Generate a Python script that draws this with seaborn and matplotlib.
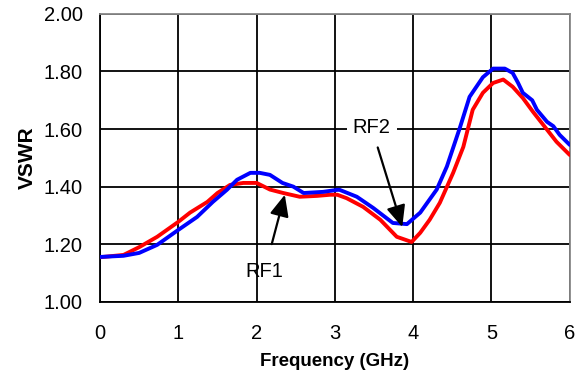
import matplotlib
matplotlib.use("Agg")
import matplotlib.pyplot as plt
import seaborn as sns
import pandas as pd

rf1_freq = [0.0, 0.3, 0.5, 0.73, 1.0, 1.15, 1.37, 1.5, 1.66, 1.83, 2.0, 2.17, 2.34, 2.55, 2.77, 2.94, 3.03,
            3.15, 3.36, 3.58, 3.79, 3.98, 4.09, 4.21, 4.34, 4.51, 4.64, 4.76, 4.89, 5.02, 5.15, 5.27, 5.4,
            5.53, 5.66, 5.83, 6.0]
rf1_vswr = [1.155, 1.163, 1.19, 1.226, 1.278, 1.31, 1.347, 1.378, 1.406, 1.413, 1.413, 1.39, 1.378, 1.365,
            1.368, 1.372, 1.372, 1.36, 1.33, 1.285, 1.226, 1.208, 1.24, 1.285, 1.344, 1.448, 1.538, 1.667,
            1.726, 1.76, 1.772, 1.747, 1.708, 1.66, 1.615, 1.556, 1.51]

rf2_freq = [0.0, 0.3, 0.5, 0.73, 1.0, 1.24, 1.44, 1.62, 1.75, 1.92, 2.04, 2.17, 2.33, 2.47, 2.6, 2.85, 3.03,
            3.06, 3.28, 3.49, 3.74, 3.92, 4.09, 4.3, 4.43, 4.6, 4.72, 4.89, 5.02, 5.17, 5.27, 5.34, 5.4,
            5.52, 5.58, 5.71, 5.79, 5.87, 6.0]
rf2_vswr = [1.156, 1.16, 1.17, 1.198, 1.25, 1.295, 1.347, 1.389, 1.424, 1.448, 1.448, 1.441, 1.413, 1.40,
            1.378, 1.382, 1.389, 1.389, 1.365, 1.326, 1.274, 1.27, 1.31, 1.39, 1.47, 1.608, 1.712, 1.78,
            1.81, 1.81, 1.795, 1.76, 1.726, 1.70, 1.667, 1.625, 1.61, 1.58, 1.545]

x_ticks = [0, 1, 2, 3, 4, 5, 6]
y_ticks = [1.00, 1.20, 1.40, 1.60, 1.80, 2.00]

df = pd.concat([
    pd.DataFrame({"freq": rf1_freq, "vswr": rf1_vswr, "series": "RF1"}),
    pd.DataFrame({"freq": rf2_freq, "vswr": rf2_vswr, "series": "RF2"}),
])

sns.set_theme(style="white")
plt.rcParams["font.family"] = ["Liberation Sans", "DejaVu Sans"]
plt.rcParams["text.color"] = "black"
plt.rcParams["axes.labelcolor"] = "black"
plt.rcParams["xtick.color"] = "black"
plt.rcParams["ytick.color"] = "black"

fig = plt.figure(figsize=(5.85, 3.75), dpi=100)
ax = fig.add_axes([0.171, 0.195, 0.803, 0.768])

sns.lineplot(data=df, x="freq", y="vswr", hue="series", palette={"RF1": "#ff0000", "RF2": "#0000ff"},
             sort=False, linewidth=2.8, legend=False, ax=ax, zorder=3)

ax.set_xlim(0, 6)
ax.set_ylim(1.0, 2.0)
ax.set_xticks(x_ticks)
ax.set_yticks(y_ticks)
ax.set_xticklabels([str(t) for t in x_ticks], fontsize=14.5)
ax.set_yticklabels([f"{t:.2f}" for t in y_ticks], fontsize=14.5)
ax.grid(True, color="black", linewidth=1.3)
ax.set_axisbelow(True)
ax.tick_params(axis="both", direction="out", length=5, width=1.3, color="black")
ax.tick_params(axis="x", pad=11)
ax.tick_params(axis="y", pad=7.5)
ax.set_xlabel("Frequency (GHz)", fontsize=13.5, fontweight="bold", labelpad=7)
ax.set_ylabel("VSWR", fontsize=15, fontweight="bold", labelpad=5)

for side in ["left", "bottom"]:
    ax.spines[side].set_color("black")
    ax.spines[side].set_linewidth(1.3)
for side in ["top", "right"]:
    ax.spines[side].set_color("#888888")
    ax.spines[side].set_linewidth(1.3)

ax.annotate("RF1", xy=(2.36, 1.372), xytext=(2.1, 1.105), fontsize=14.5, ha="center", va="center",
            arrowprops=dict(arrowstyle="-|>,head_length=0.9,head_width=0.4", color="black", lw=1.6,
                            shrinkA=11, shrinkB=0), zorder=5)
ax.annotate("RF2", xy=(3.86, 1.26), xytext=(3.47, 1.604), fontsize=14.5, ha="center", va="center",
            bbox=dict(boxstyle="square,pad=0.3", fc="white", ec="none"),
            arrowprops=dict(arrowstyle="-|>,head_length=0.9,head_width=0.4", color="black", lw=1.6,
                            shrinkA=3, shrinkB=0), zorder=5)

fig.savefig("out.png", dpi=100)
